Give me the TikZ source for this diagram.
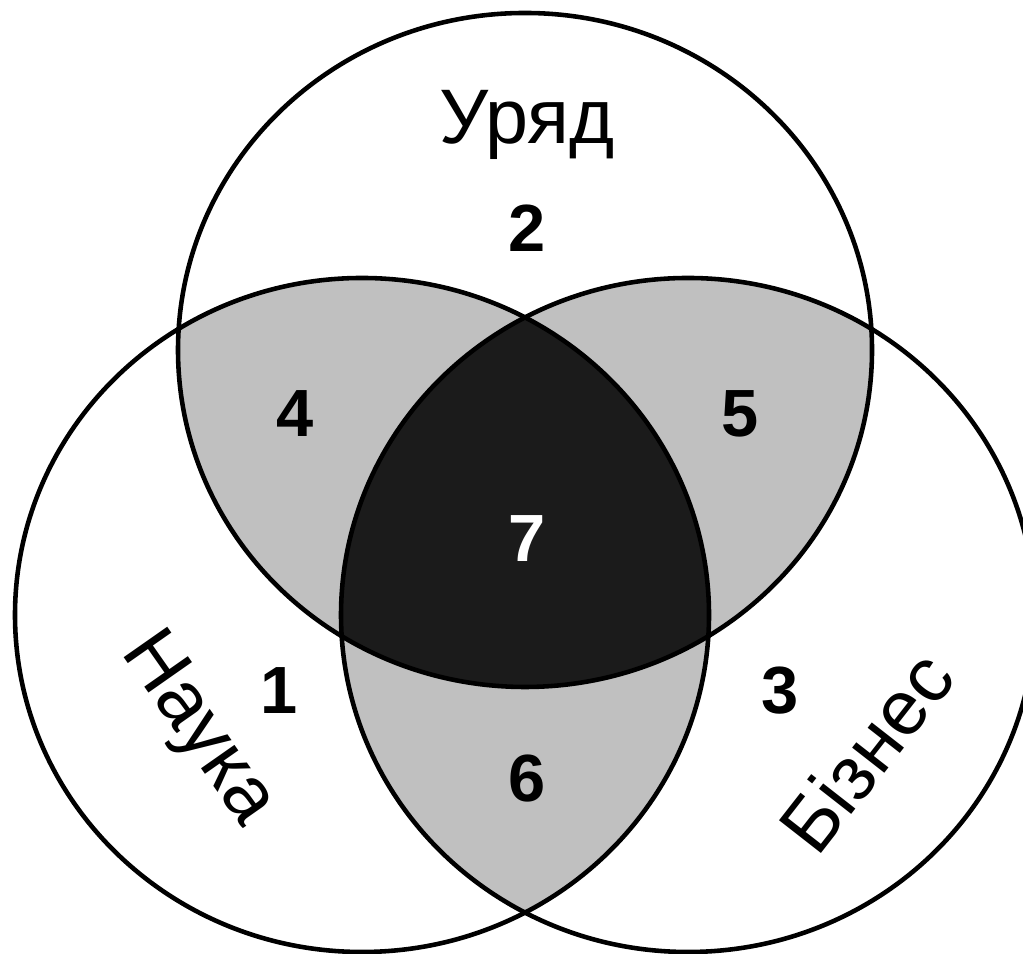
\documentclass[tikz,border=0pt]{standalone}
\usepackage{fontspec}
\setmainfont{Liberation Sans}
\usepackage{tikz}
\usetikzlibrary{positioning}
\definecolor{vngray}{RGB}{192,192,192}
\definecolor{vndark}{RGB}{27,27,27}
\tikzstyle{ring} = [line width=1.3pt, draw=black]
\tikzstyle{setname} = [font=\fontsize{22}{26}\selectfont, inner sep=0pt]
\tikzstyle{zone} = [font=\fontsize{19}{22}\selectfont\bfseries, inner sep=0pt]
\def\govset{(5.25,6.04) ellipse [x radius=3.47cm, y radius=3.37cm]}
\def\sciset{(3.62,3.39) ellipse [x radius=3.47cm, y radius=3.37cm]}
\def\busset{(6.88,3.39) ellipse [x radius=3.47cm, y radius=3.37cm]}
\begin{document}
\begin{tikzpicture}
\useasboundingbox (0,0) rectangle (10.23,9.54);
\clip (0,0) rectangle (10.23,9.54);
% Pairwise overlaps
\begin{scope}
\clip \govset;
\fill[vngray] \sciset;
\fill[vngray] \busset;
\end{scope}
\begin{scope}
\clip \sciset;
\fill[vngray] \busset;
\end{scope}
% Common part
\begin{scope}
\clip \govset;
\clip \sciset;
\fill[vndark] \busset;
\end{scope}

% Circles
\draw[ring] \govset;
\draw[ring] \sciset;
\draw[ring] \busset;

% Set names
\node (gov) [setname] at (5.27,8.29) {Уряд};
\node (sci) [setname, rotate=-55] at (1.97,2.24) {Наука};
\node (bus) [setname, rotate=52] at (8.66,2.02) {Бізнес};

% Zones
\node (z1) [zone] at (2.79,2.63) {1};
\node (z2) [zone] at (5.27,7.26) {2};
\node (z3) [zone] at (7.80,2.63) {3};
\node (z4) [zone] at (2.95,5.40) {4};
\node (z5) [zone] at (7.40,5.40) {5};
\node (z6) [zone] at (5.27,1.75) {6};
\node (z7) [zone, text=white] at (5.27,4.15) {7};
\end{tikzpicture}
\end{document}
